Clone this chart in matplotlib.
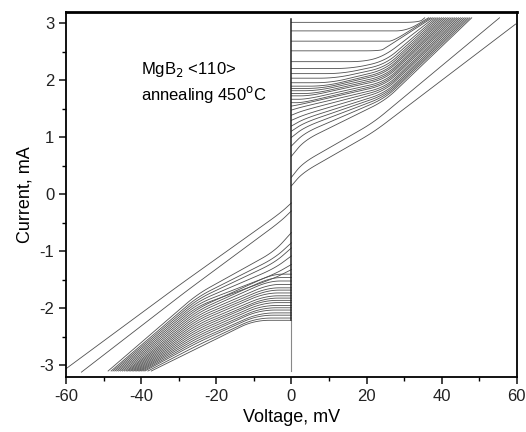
import numpy as np
import matplotlib
matplotlib.use("Agg")
import matplotlib.pyplot as plt
from matplotlib.ticker import MultipleLocator

# positive branch: plateau current, knee (V, I), current at 25 mV, voltage where I reaches 3.1 mA
ic_p = [0.67, 0.85, 1.00, 1.11, 1.20, 1.30, 1.39, 1.48, 1.55, 1.61, 1.67, 1.73, 1.77,
        1.82, 1.86, 1.90, 1.96, 2.04, 2.12, 2.21, 2.33, 2.52, 2.69, 2.87, 3.02]
vk_p = [3.5, 3.5, 3.5, 3.5, 3.5, 3.5, 3.0, 2.5, 2.5, 3.0, 4.0, 5.0, 6.0,
        7.0, 8.0, 9.0, 10.5, 11.7, 13.4, 16.0, 19.6, 23.7, 27.0, 30.7, 34.0]
ik_p = [0.95, 1.08, 1.18, 1.26, 1.33, 1.40, 1.47, 1.53, 1.58, 1.61, 1.67, 1.73, 1.77,
        1.82, 1.86, 1.90, 1.96, 2.04, 2.12, 2.21, 2.33, 2.52, 2.69, 2.87, 3.02]
i25_p = [1.65, 1.69, 1.72, 1.75, 1.78, 1.82, 1.85, 1.88, 1.92, 1.95, 1.98, 2.02, 2.05,
         2.08, 2.12, 2.15, 2.19, 2.23, 2.28, 2.34, 2.44, 2.57, 2.69, 2.87, 3.02]
ve_p = [48.0, 47.5, 47.0, 46.5, 46.0, 45.5, 45.0, 44.5, 44.0, 43.5, 43.0, 42.5, 42.0,
        41.5, 41.0, 40.5, 40.0, 39.5, 39.0, 38.5, 38.0, 37.5, 37.0, 36.5, 35.5]

# negative branch
ic_n = [-0.67, -0.85, -0.94, -1.08, -1.23, -1.32, -1.40, -1.46, -1.52, -1.58, -1.64, -1.68,
        -1.73, -1.78, -1.82, -1.86, -1.90, -1.95, -1.99, -2.03, -2.08, -2.12, -2.17, -2.21]
vk_n = [-4.5, -4.5, -4.5, -4.5, -4.5, -4.5, -5.0, -5.5, -6.0, -6.0, -6.5, -6.5,
        -7.0, -7.0, -7.0, -7.5, -7.5, -8.0, -8.0, -8.5, -8.5, -9.0, -9.5, -10.0]
ik_n = [-1.00, -1.12, -1.20, -1.30, -1.40, -1.47, -1.40, -1.46, -1.52, -1.58, -1.64, -1.68,
        -1.73, -1.78, -1.82, -1.86, -1.90, -1.95, -1.99, -2.03, -2.08, -2.12, -2.17, -2.21]
i25_n = [-1.75, -1.80, -1.84, -1.88, -1.92, -1.96, -2.00, -2.04, -2.08, -2.12, -2.16, -2.20,
         -2.24, -2.28, -2.32, -2.36, -2.40, -2.44, -2.48, -2.52, -2.56, -2.60, -2.65, -2.70]
ve_n = [-48.8, -48.0, -47.5, -47.0, -46.5, -46.0, -45.5, -45.0, -44.5, -44.0, -43.6, -43.2,
        -42.8, -42.4, -42.0, -41.6, -41.2, -40.8, -40.4, -40.0, -39.5, -39.0, -38.2, -37.3]
i_end = 3.1

# near-ohmic curves
n1_v = [-60.0, -30.0, -3.0, 0.0, 0.0, 3.0, 21.8, 59.7]
n1_i = [-3.06, -1.60, -0.33, -0.15, 0.15, 0.38, 1.09, 2.99]
n2_v = [-55.9, -28.0, -3.0, 0.0, 0.0, 3.0, 21.8, 55.4]
n2_i = [-3.12, -1.70, -0.48, -0.29, 0.30, 0.55, 1.26, 3.10]

plt.rcParams["font.family"] = ["Liberation Sans", "DejaVu Sans"]
plt.rcParams["axes.unicode_minus"] = False
fig = plt.figure(figsize=(5.26, 4.32), dpi=100)
ax = fig.add_axes([0.1255, 0.128, 0.857, 0.844])
lc = "#505050"
lw = 0.6


def rounded(vs, is_, r=0.035):
	# round the corners of the polyline with short quadratic bezier arcs
	p = np.column_stack([np.array(vs) / 120.0, np.array(is_) / 6.4])
	out = [p[0]]
	t = np.linspace(0, 1, 14)[:, None]
	for j in range(1, len(p) - 1):
		a, c, b = p[j - 1], p[j], p[j + 1]
		la = np.hypot(*(a - c))
		lb = np.hypot(*(b - c))
		p1 = c + (a - c) * min(0.5, r / max(la, 1e-9))
		p2 = c + (b - c) * min(0.5, r / max(lb, 1e-9))
		arc = (1 - t) ** 2 * p1 + 2 * (1 - t) * t * c + t ** 2 * p2
		out.extend(arc)
	out.append(p[-1])
	out = np.array(out)
	return out[:, 0] * 120.0, out[:, 1] * 6.4


def branch(ic, vk, ik, i25, ve, ie, v25):
	for k in range(len(ic)):
		pts = [(0.0, ic[k]), (vk[k], ik[k]), (v25, i25[k]), (ve[k], ie)]
		pts.sort(key=lambda p: abs(p[0]))
		x, y = rounded([p[0] for p in pts], [p[1] for p in pts])
		ax.plot(x, y, color=lc, lw=lw)


branch(ic_p, vk_p, ik_p, i25_p, ve_p, i_end, 25.0)
branch(ic_n, vk_n, ik_n, i25_n, ve_n, -i_end, -25.0)
for vv, ii in [(n1_v[:4], n1_i[:4]), (n1_v[4:], n1_i[4:]),
               (n2_v[:4], n2_i[:4]), (n2_v[4:], n2_i[4:])]:
	x, y = rounded(vv, ii)
	ax.plot(x, y, color=lc, lw=lw)
ax.plot([0, 0], [-3.1, -2.2], color="#888888", lw=0.8)
ax.plot([0, 0], [-2.2, 3.08], color="#222222", lw=1.1)

ax.set_xlim(-60, 60)
ax.set_ylim(-3.2, 3.2)
ax.xaxis.set_major_locator(MultipleLocator(20))
ax.xaxis.set_minor_locator(MultipleLocator(10))
ax.yaxis.set_major_locator(MultipleLocator(1))
ax.yaxis.set_minor_locator(MultipleLocator(0.5))
ax.tick_params(which="major", direction="out", length=5, width=1.2, labelsize=12, colors="#222222")
ax.tick_params(which="minor", direction="out", length=3, width=1.0)
for s in ax.spines.values():
	s.set_linewidth(1.3)
ax.spines["top"].set_linewidth(2.0)

ax.set_xlabel("Voltage, mV", fontsize=13, labelpad=4)
ax.set_ylabel("Current, mA", fontsize=13, labelpad=4)
ax.text(-40, 2.2, "MgB$_2$ <110>", fontsize=12, va="center")
ax.text(-40, 1.75, "annealing 450$^{\\rm o}$C", fontsize=12, va="center")

fig.savefig("out.png", dpi=100)
